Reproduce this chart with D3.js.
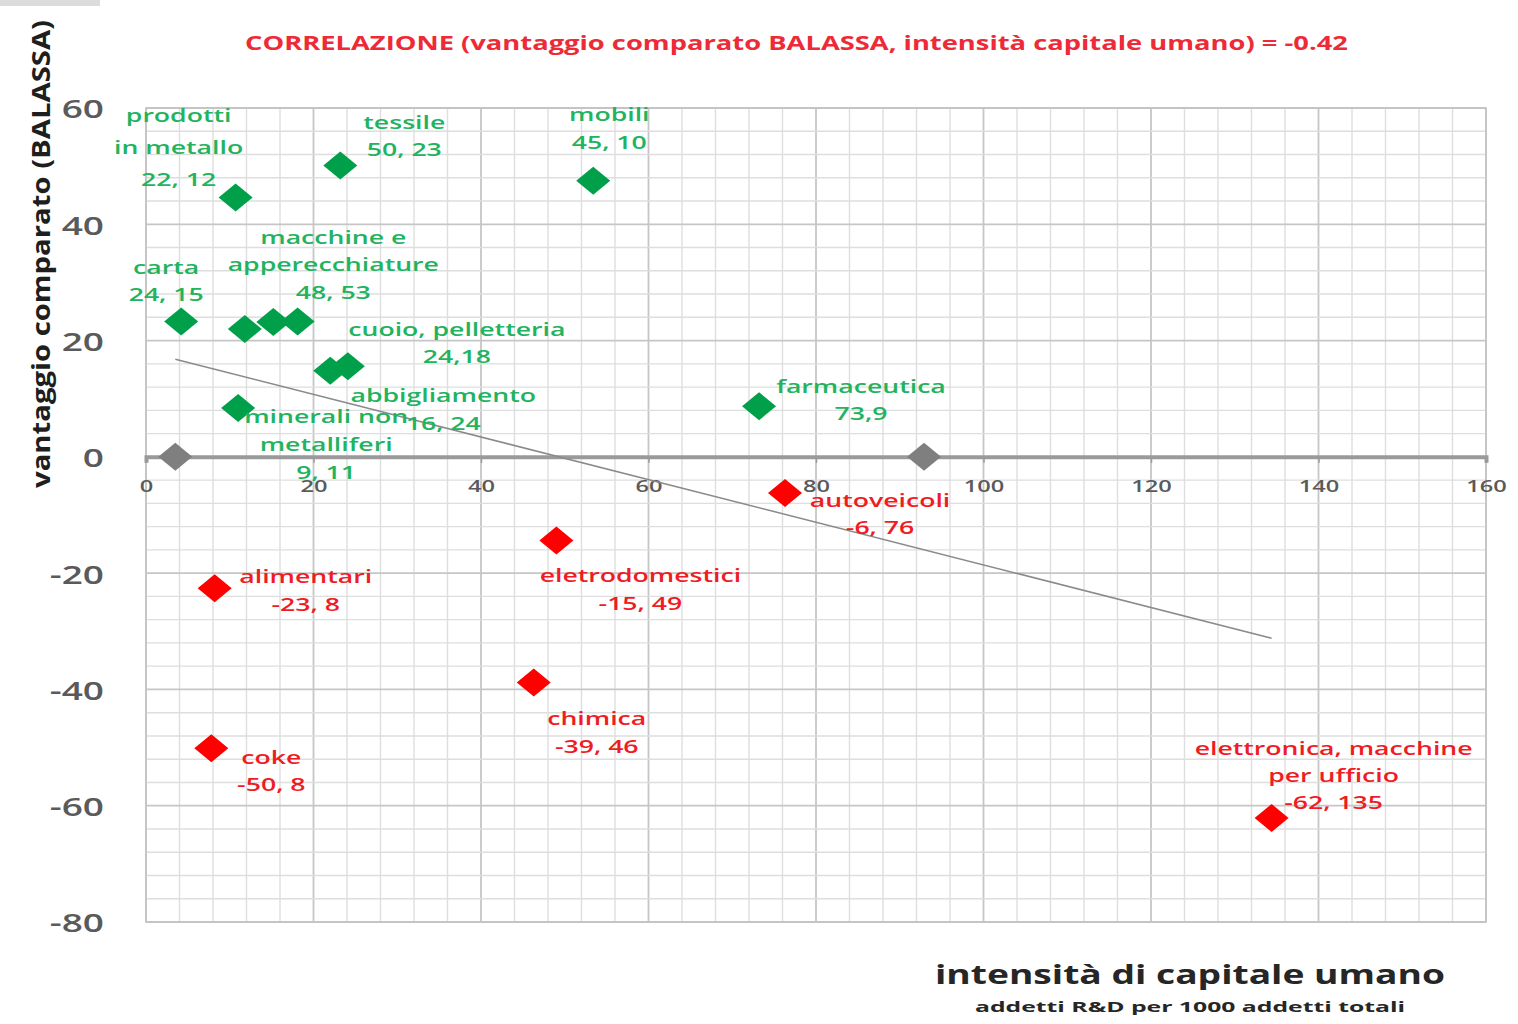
<!DOCTYPE html>
<html>
<head>
<meta charset="utf-8">
<script src="https://cdn.jsdelivr.net/npm/d3@7"></script>
<style>
  body { margin: 0; background: #fff; }
  svg { display: block; }
</style>
</head>
<body>
<svg id="chart" width="1518" height="1024"></svg>
<script>
// sectors (x = intensità capitale umano, y = vantaggio comparato BALASSA)
const sectors = ["prodotti in metallo", "tessile", "mobili", "carta", "macchine 1",
  "macchine e apparecchiature", "macchine 2", "cuoio, pelletteria", "abbigliamento",
  "minerali non metalliferi", "farmaceutica", "autoveicoli", "eletrodomestici",
  "alimentari", "chimica", "coke", "elettronica, macchine per ufficio"]
const capitale = [10.7, 23.2, 53.4, 4.2, 11.8, 15.2, 18.1, 24.1, 22.0, 11.0, 73.2, 76.3, 49.0, 8.2, 46.3, 7.8, 134.4]
const balassa = [44.6, 50.1, 47.5, 23.3, 22.0, 23.2, 23.3, 15.6, 14.8, 8.4, 8.7, -6.2, -14.4, -22.6, -38.8, -50.1, -62.1]
const labelLines = [
  ["prodotti", "in metallo", "22, 12"], ["tessile", "50, 23"], ["mobili", "45, 10"],
  ["carta", "24, 15"], [], ["macchine e", "apperecchiature", "48, 53"], [],
  ["cuoio, pelletteria", "24,18"], ["abbigliamento", "16, 24"],
  ["minerali non", "metalliferi", "9, 11"], ["farmaceutica", "73,9"],
  ["autoveicoli", "-6, 76"], ["eletrodomestici", "-15, 49"], ["alimentari", "-23, 8"],
  ["chimica", "-39, 46"], ["coke", "-50, 8"], ["elettronica, macchine", "per ufficio", "-62, 135"]
]
const zeroMarkers = [3.5, 92.9]
const trendX = [3.5, 134.4]
const trendY = [16.8, -31.2]
const xTicks = [0, 20, 40, 60, 80, 100, 120, 140, 160]
const yTicks = [-80, -60, -40, -20, 0, 20, 40, 60]

const title = "CORRELAZIONE (vantaggio comparato BALASSA, intensità capitale umano) = -0.42"

// label placement relative to the diamond: [dx, dy, line height]
const labelPos = {
  "prodotti in metallo": [-57, -82, 32],
  "tessile": [64, -43, 27],
  "mobili": [16, -66, 28],
  "carta": [-15, -54, 27],
  "macchine e apparecchiature": [60, -85, 27.5],
  "cuoio, pelletteria": [109, -37, 27],
  "abbigliamento": [113, 24, 28],
  "minerali non metalliferi": [88, 8, 28],
  "farmaceutica": [102, -20, 27],
  "autoveicoli": [95, 7, 27],
  "eletrodomestici": [84, 35, 28],
  "alimentari": [91, -12, 28],
  "chimica": [63, 36, 28],
  "coke": [60, 9, 27],
  "elettronica, macchine per ufficio": [62, -70, 27]
}

const SX = 1.48   // the picture's text is wide
const green = "#00a04a", greenText = "#22b35e"
const red = "#ff0000", redText = "#f01c24"

const svg = d3.select("#chart")

svg.append("rect").attr("x", 0).attr("y", 0).attr("width", 100).attr("height", 6).attr("fill", "#dcdcdc")

const x = d3.scaleLinear().domain([0, 160]).range([146, 1486])
const y = d3.scaleLinear().domain([-80, 60]).range([922, 108])

// grid
const grid = svg.append("g")
for (let v = 0; v <= 160; v += 4) {
  grid.append("line")
    .attr("x1", x(v)).attr("x2", x(v)).attr("y1", y(60)).attr("y2", y(-80))
    .attr("stroke", v % 20 === 0 ? "#c6c6c6" : "#dedede")
    .attr("stroke-width", v % 20 === 0 ? 1.8 : 1.4)
}
for (let v = -80; v <= 60; v += 4) {
  grid.append("line")
    .attr("x1", x(0)).attr("x2", x(160)).attr("y1", y(v)).attr("y2", y(v))
    .attr("stroke", v % 20 === 0 ? "#c6c6c6" : "#dedede")
    .attr("stroke-width", v % 20 === 0 ? 1.8 : 1.4)
}
svg.append("rect")
  .attr("x", x(0)).attr("y", y(60)).attr("width", x(160) - x(0)).attr("height", y(-80) - y(60))
  .attr("fill", "none").attr("stroke", "#c4c4c4").attr("stroke-width", 1.5)

// y axis labels
const yAxis = svg.append("g")
  .attr("transform", `translate(${x(0)},0)`)
  .call(d3.axisLeft(y).tickValues(yTicks).tickFormat(d => String(d)).tickSize(0).tickPadding(0))
yAxis.select(".domain").remove()
yAxis.selectAll("text")
  .attr("x", null).attr("dy", null)
  .attr("dominant-baseline", "central")
  .attr("transform", `translate(-42,0) scale(${SX},1)`)
  .attr("font-family", "Open Sans").attr("font-size", 25).attr("font-weight", 600)
  .attr("fill", "#5a5a5a")

// x axis along zero
const xAxis = svg.append("g")
  .attr("transform", `translate(0,${y(0)})`)
  .call(d3.axisBottom(x).tickValues(xTicks).tickFormat(d => String(d)).tickSize(6).tickPadding(0))
xAxis.select(".domain").attr("stroke", "#9a9a9a").attr("stroke-width", 4)
xAxis.selectAll(".tick line").attr("stroke", "#9a9a9a").attr("stroke-width", 1.5)
xAxis.selectAll("text")
  .attr("y", null).attr("dy", null)
  .attr("dominant-baseline", "central")
  .attr("transform", `translate(0,29) scale(${SX},1)`)
  .attr("font-family", "Open Sans").attr("font-size", 16).attr("font-weight", 600)
  .attr("fill", "#5a5a5a")

// trend line
svg.append("line")
  .attr("x1", x(trendX[0])).attr("y1", y(trendY[0]))
  .attr("x2", x(trendX[1])).attr("y2", y(trendY[1]))
  .attr("stroke", "#8a8a8a").attr("stroke-width", 1.6)

const diamond = "M0,-14 L17,0 L0,14 L-17,0 Z"

svg.append("g").selectAll("path")
  .data(zeroMarkers)
  .join("path")
    .attr("d", diamond)
    .attr("transform", d => `translate(${x(d)},${y(0)})`)
    .attr("fill", "#7f7f7f")

const points = sectors.map((s, i) => ({ name: s, cx: capitale[i], cy: balassa[i], lines: labelLines[i] }))

svg.append("g").selectAll("path")
  .data(points)
  .join("path")
    .attr("d", diamond)
    .attr("transform", d => `translate(${x(d.cx)},${y(d.cy)})`)
    .attr("fill", d => d.cy >= 0 ? green : red)

// labels
const labels = svg.append("g")
  .attr("font-family", "Open Sans").attr("font-size", 18).attr("font-weight", 600)
points.filter(d => d.lines.length).forEach(d => {
  const [dx, dy, lh] = labelPos[d.name]
  d.lines.forEach((t, i) => {
    labels.append("text")
      .attr("transform", `translate(${x(d.cx) + dx},${y(d.cy) + dy + i * lh}) scale(${SX},1)`)
      .attr("text-anchor", "middle")
      .attr("dominant-baseline", "central")
      .attr("fill", d.cy >= 0 ? greenText : redText)
      .text(t)
  })
})

// title and axis titles
svg.append("text")
  .attr("x", 245).attr("y", 43)
  .attr("dominant-baseline", "central")
  .attr("textLength", 1103).attr("lengthAdjust", "spacingAndGlyphs")
  .attr("font-family", "Open Sans").attr("font-size", 19).attr("font-weight", 700)
  .attr("fill", "#ee2a36")
  .text(title)

svg.append("text")
  .attr("transform", "translate(40,254) rotate(-90)")
  .attr("text-anchor", "middle")
  .attr("dominant-baseline", "central")
  .attr("textLength", 468).attr("lengthAdjust", "spacingAndGlyphs")
  .attr("font-family", "Open Sans").attr("font-size", 25).attr("font-weight", 700)
  .attr("fill", "#1e1e1e")
  .text("vantaggio comparato (BALASSA)")

svg.append("text")
  .attr("x", 935).attr("y", 973)
  .attr("dominant-baseline", "central")
  .attr("textLength", 510).attr("lengthAdjust", "spacingAndGlyphs")
  .attr("font-family", "Open Sans").attr("font-size", 27).attr("font-weight", 700)
  .attr("fill", "#262626")
  .text("intensità di capitale umano")

svg.append("text")
  .attr("x", 975).attr("y", 1006)
  .attr("dominant-baseline", "central")
  .attr("textLength", 430).attr("lengthAdjust", "spacingAndGlyphs")
  .attr("font-family", "Open Sans").attr("font-size", 14).attr("font-weight", 700)
  .attr("fill", "#262626")
  .text("addetti R&D per 1000 addetti totali")
</script>
</body>
</html>
